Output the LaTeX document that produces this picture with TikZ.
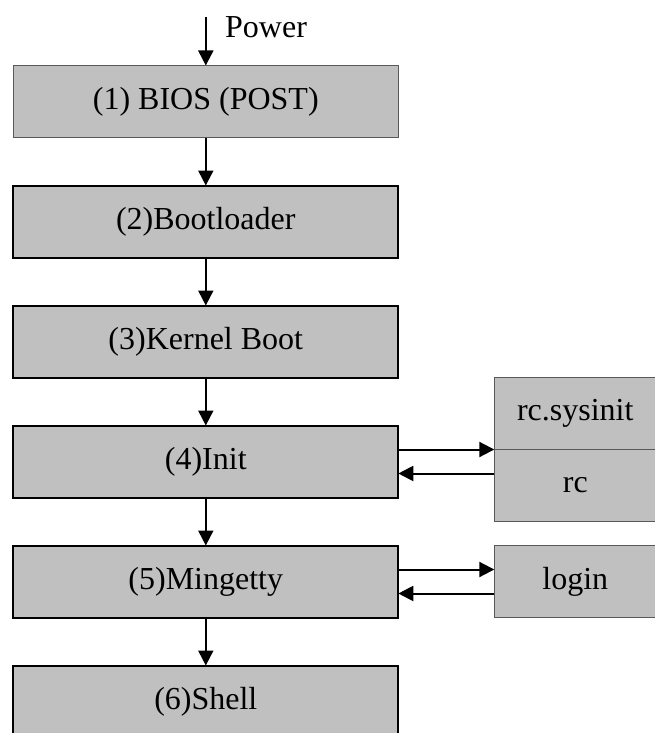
\documentclass[tikz,border=0pt]{standalone}
\usepackage{fontspec}
\setmainfont{Liberation Serif}
\usetikzlibrary{positioning, arrows.meta}
\definecolor{boxgray}{HTML}{C0C0C0}

\begin{document}
\begin{tikzpicture}
			[stage/.style={rectangle, draw=black, line width=1pt, fill=boxgray, minimum width=192.5pt, minimum height=36pt, inner sep=0pt, outer sep=0pt, font=\fontsize{16}{19}\selectfont},
			side/.style={rectangle, draw=black!65, line width=0.5pt, fill=boxgray, minimum width=81pt, minimum height=36pt, inner sep=0pt, outer sep=0pt, font=\fontsize{16}{19}\selectfont},
			flow/.style={-{Triangle[length=7.5pt,width=7.5pt]}, line width=1pt},
			node distance=24pt]
			\useasboundingbox (0,0) rectangle (327pt,-366.5pt);
			\node[stage, draw=black!65, line width=0.6pt] (s1) at (102.9pt,-50.75pt) {(1) BIOS (POST)};
			\node[stage] (s2) [below = of s1] {(2)Bootloader};
			\node[stage] (s3) [below = of s2] {(3)Kernel Boot};
			\node[stage] (s4) [below = of s3] {(4)Init};
			\node[stage] (s5) [below = of s4] {(5)Mingetty};
			\node[stage] (s6) [below = of s5] {(6)Shell};
			\node[side, anchor=south west] (sysinit) at ([xshift=48pt,yshift=6pt]s4.east) {rc.sysinit};
			\node[side] (rc) [below = 0pt of sysinit] {rc};
			\node[side] (login) [right = 48pt of s5] {login};
			\coordinate[above = of s1] (pwr);
			\node[anchor=base west, inner sep=0pt, font=\fontsize{16}{19}\selectfont] (power) at ([xshift=9.5pt,yshift=-10pt]pwr) {Power};
			\draw[flow] (pwr) -- (s1.north);
			\draw[flow] (s1) -- (s2);
			\draw[flow] (s2) -- (s3);
			\draw[flow] (s3) -- (s4);
			\draw[flow] (s4) -- (s5);
			\draw[flow] (s5) -- (s6);
			\draw[flow] ([yshift=6pt]s4.east) -- (sysinit.south west);
			\draw[flow] ([yshift=6pt]rc.west) -- ([yshift=-6pt]s4.east);
			\draw[flow] ([yshift=6pt]s5.east) -- ([yshift=6pt]login.west);
			\draw[flow] ([yshift=-6pt]login.west) -- ([yshift=-6pt]s5.east);
\end{tikzpicture}
\end{document}
